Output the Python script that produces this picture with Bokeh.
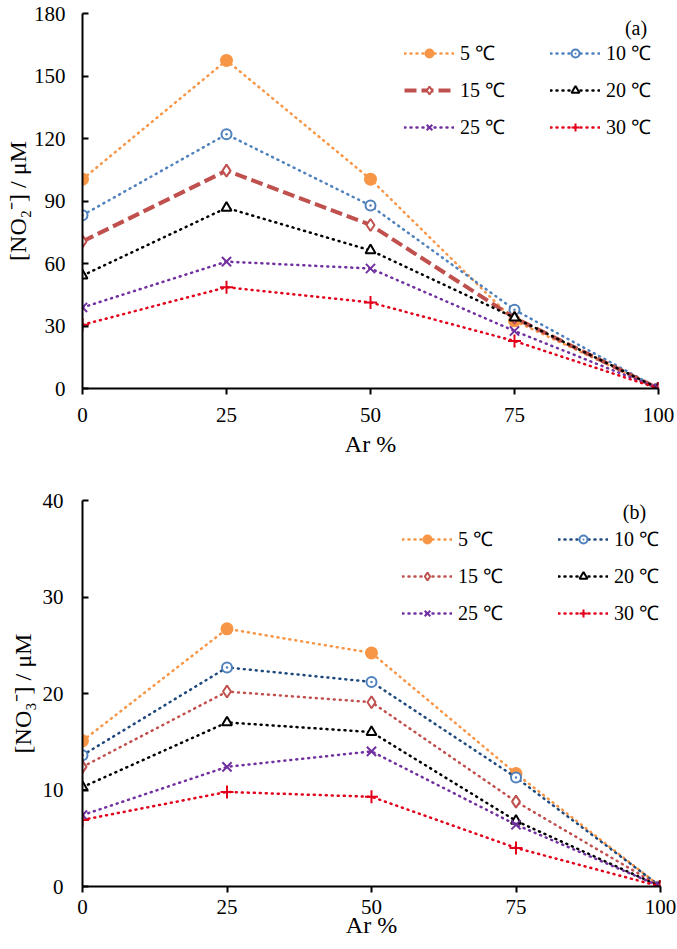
from bokeh.plotting import figure
from bokeh.layouts import column
from bokeh.models import Range1d, Label, Legend, LegendItem, FixedTicker
from bokeh.embed import file_html
from bokeh.resources import INLINE

# ---------------- data ----------------
ar_pct = [0, 25, 50, 75, 100]
series_labels = ["5 ℃", "10 ℃", "15 ℃", "20 ℃", "25 ℃", "30 ℃"]

no2_5 = [100.5, 157.5, 100.5, 32.5, 0]
no2_10 = [83.2, 122.0, 87.8, 37.8, 0]
no2_15 = [70.6, 104.6, 78.5, 33.9, 0]
no2_20 = [54.2, 86.7, 66.3, 34.0, 0]
no2_25 = [38.9, 60.9, 57.6, 27.6, 0]
no2_30 = [30.6, 48.6, 41.3, 22.8, 0]

no3_5 = [15.1, 26.7, 24.2, 11.7, 0]
no3_10 = [13.6, 22.7, 21.2, 11.3, 0]
no3_15 = [12.4, 20.2, 19.1, 8.8, 0]
no3_20 = [10.3, 17.0, 16.0, 6.8, 0]
no3_25 = [7.4, 12.4, 14.0, 6.4, 0]
no3_30 = [6.9, 9.8, 9.3, 4.0, 0]

x_ticks = [0, 25, 50, 75, 100]
y_ticks_a = [0, 30, 60, 90, 120, 150, 180]
y_ticks_b = [0, 10, 20, 30, 40]

FONT = "Times New Roman"

ORANGE = "#F79646"
BLUE = "#4F81BD"
NAVY = "#1F497D"
ROSE = "#C0504D"
BLACK = "#000000"
PURPLE = "#7030A0"
RED = "#E3001B"


def style(p, yticks, ylabel, xstand, xlab_stand, ystand, ylab_stand):
    p.xaxis.ticker = FixedTicker(ticks=x_ticks)
    p.yaxis.ticker = FixedTicker(ticks=yticks)
    for ax in (p.xaxis[0], p.yaxis[0]):
        ax.axis_line_width = 2
        ax.axis_line_color = "black"
        ax.major_tick_line_width = 2
        ax.major_tick_line_color = "black"
        ax.minor_tick_line_color = None
        ax.major_label_text_font = FONT
        ax.major_label_text_font_size = "21px"
        ax.major_label_text_color = "black"
        ax.axis_label_text_font = FONT
        ax.axis_label_text_font_style = "normal"
        ax.axis_label_text_font_size = "24px"
        ax.axis_label_text_color = "black"
    p.xaxis.major_tick_in = 0
    p.xaxis.major_tick_out = 6
    p.yaxis.major_tick_in = 6
    p.yaxis.major_tick_out = 0
    p.xaxis.major_label_standoff = xstand
    p.xaxis.axis_label_standoff = xlab_stand
    p.yaxis.major_label_standoff = ystand
    p.yaxis.axis_label_standoff = ylab_stand
    p.xaxis.axis_label = "Ar %"
    p.yaxis.axis_label = ylabel
    p.xgrid.visible = False
    p.ygrid.visible = False
    p.outline_line_color = None
    p.background_fill_color = "white"
    p.border_fill_color = "white"


def add_series(p, store, ys, color, line_color, marker, dash, lw, label, msize, fill):
    r1 = p.line(ar_pct, ys, line_color=line_color, line_width=lw, line_dash=dash,
                line_cap="round" if dash == "1 5" else "butt")
    r2 = p.scatter(ar_pct, ys, marker=marker, size=msize, line_color=color, line_width=2,
                   fill_color=color if fill else "white")
    store[label] = LegendItem(label=label, renderers=[r1, r2])


def legend(p, store, x, y, lw):
    # column-major filling: first column 5,15,25 ; second 10,20,30
    order = [series_labels[i] for i in (0, 2, 4, 1, 3, 5)]
    leg = Legend(items=[store[k] for k in order], ncols=2, location=(x, y))
    leg.label_text_font = FONT
    leg.label_text_font_size = "20px"
    leg.label_text_color = "black"
    leg.glyph_width = 50
    leg.glyph_height = 20
    leg.label_standoff = 6
    leg.spacing = 10
    leg.label_height = 20
    leg.label_width = lw
    leg.border_line_color = None
    leg.background_fill_alpha = 0
    leg.padding = 0
    leg.margin = 0
    p.add_layout(leg)


def tag(p, x, y, s):
    p.add_layout(Label(x=x, y=y, text=s, text_font=FONT, text_font_size="20px",
                       text_align="center", text_baseline="middle", text_color="black"))


# ---------------- figure (a) ----------------
pa = figure(frame_width=576, frame_height=375, output_backend="svg", toolbar_location=None,
            x_range=Range1d(0, 100), y_range=Range1d(0, 180),
            min_border_left=76, min_border_right=25, min_border_top=13, min_border_bottom=82)
style(pa, y_ticks_a, "[NO₂⁻] / μM", 13, 6, 17, 0)
store_a = {}
add_series(pa, store_a, no2_5, ORANGE, ORANGE, "circle", "1 5", 2.5, series_labels[0], 11, True)
add_series(pa, store_a, no2_10, BLUE, BLUE, "circle_dot", "1 5", 2.5, series_labels[1], 10, False)
add_series(pa, store_a, no2_15, ROSE, ROSE, "diamond", "12 5", 4, series_labels[2], 12, False)
add_series(pa, store_a, no2_20, BLACK, BLACK, "triangle", "1 5", 2.5, series_labels[3], 10, False)
add_series(pa, store_a, no2_25, PURPLE, PURPLE, "x", "1 5", 2.5, series_labels[4], 13, False)
add_series(pa, store_a, no2_30, RED, RED, "cross", "1 5", 2.5, series_labels[5], 13, False)
legend(pa, store_a, 322, 248, 80)
tag(pa, 96.1, 173.0, "(a)")

# ---------------- figure (b) ----------------
pb = figure(frame_width=578, frame_height=386, output_backend="svg", toolbar_location=None,
            x_range=Range1d(0, 100), y_range=Range1d(0, 40),
            min_border_left=82, min_border_right=17, min_border_top=30, min_border_bottom=55)
style(pb, y_ticks_b, "[NO₃⁻] / μM", 7, -5, 19, 4)
store_b = {}
add_series(pb, store_b, no3_5, ORANGE, ORANGE, "circle", "1 5", 2.5, series_labels[0], 11, True)
add_series(pb, store_b, no3_10, BLUE, NAVY, "circle_dot", "1 5", 2.5, series_labels[1], 10, False)
add_series(pb, store_b, no3_15, ROSE, ROSE, "diamond", "1 5", 2.5, series_labels[2], 12, False)
add_series(pb, store_b, no3_20, BLACK, BLACK, "triangle", "1 5", 2.5, series_labels[3], 10, False)
add_series(pb, store_b, no3_25, PURPLE, PURPLE, "x", "1 5", 2.5, series_labels[4], 13, False)
add_series(pb, store_b, no3_30, RED, RED, "cross", "1 5", 2.5, series_labels[5], 13, False)
legend(pb, store_b, 320, 260, 90)
tag(pb, 95.5, 38.76, "(b)")

layout = column(pa, pb, spacing=0)
open("out.html", "w").write(file_html(layout, INLINE))
